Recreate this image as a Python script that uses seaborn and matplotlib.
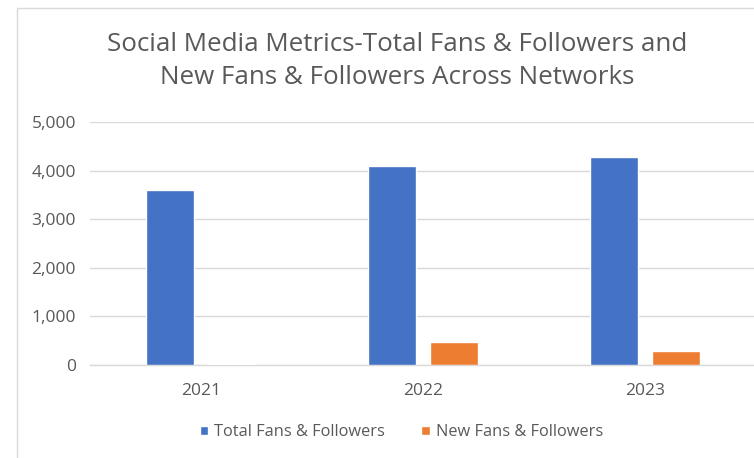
import matplotlib
matplotlib.use("Agg")
import matplotlib.pyplot as plt
import seaborn as sns
import pandas as pd
from matplotlib.patches import Rectangle
from matplotlib.ticker import FuncFormatter

# Chart data
years = ["2021", "2022", "2023"]
total_fans = [3600, 4100, 4290]
new_fans = [30, 470, 280]
series_names = ["Total Fans & Followers", "New Fans & Followers"]
series_colors = ["#4472C4", "#ED7D31"]
y_ticks = [0, 1000, 2000, 3000, 4000, 5000]

df = pd.DataFrame({
    "Year": years * 2,
    "Value": total_fans + new_fans,
    "Series": [series_names[0]] * len(years) + [series_names[1]] * len(years),
})

sns.set_theme(style="white")
plt.rcParams["font.family"] = ["Open Sans", "DejaVu Sans"]

text_gray = "#595959"
grid_gray = "#D9D9D9"

fig = plt.figure(figsize=(7.54, 4.58), dpi=100)
fig.patch.set_facecolor("white")

# Outer chart frame
fig.patches.append(Rectangle((17 / 754, -0.1), 1.2, 1 - 8 / 458 + 0.1,
                             transform=fig.transFigure, fill=False,
                             edgecolor=grid_gray, linewidth=1.0, zorder=0))

ax = fig.add_axes([90 / 754, 1 - 365 / 458, 666 / 754, (365 - 122.3) / 458])
sns.barplot(data=df, x="Year", y="Value", hue="Series", order=years,
            hue_order=series_names, palette=dict(zip(series_names, series_colors)),
            width=0.56, gap=0.22, saturation=1, ax=ax, legend=True)

ax.set_ylim(0, 5000)
ax.set_yticks(y_ticks)
ax.yaxis.set_major_formatter(FuncFormatter(lambda v, p: f"{int(v):,}"))
ax.set_xlim(-0.5, 2.5)
ax.set_xlabel("")
ax.set_ylabel("")
ax.grid(axis="y", color=grid_gray, linewidth=1.0)
ax.set_axisbelow(True)
for side in ["top", "right", "left"]:
    ax.spines[side].set_visible(False)
ax.spines["bottom"].set_color(grid_gray)
ax.spines["bottom"].set_linewidth(1.0)
ax.spines["bottom"].set_zorder(0.5)
ax.tick_params(axis="y", length=0, pad=10, labelsize=12.5, labelcolor=text_gray)
ax.tick_params(axis="x", length=0, pad=13, labelsize=12.5, labelcolor=text_gray)
ax.patch.set_alpha(0)

handles, labels = ax.get_legend_handles_labels()
ax.get_legend().remove()
fig.legend(handles, labels, loc="center", bbox_to_anchor=(401.5 / 754, 1 - 432 / 458),
           ncol=2, frameon=False, fontsize=11.8, labelcolor=text_gray,
           handlelength=0.5, handleheight=0.5, handletextpad=0.4, columnspacing=2.2)

fig.text(397 / 754, 1 - 61 / 458,
         "Social Media Metrics-Total Fans & Followers and\nNew Fans & Followers Across Networks",
         ha="center", va="center", fontsize=18.7, color=text_gray, linespacing=1.4)

fig.savefig("out.png", dpi=100, facecolor="white")
